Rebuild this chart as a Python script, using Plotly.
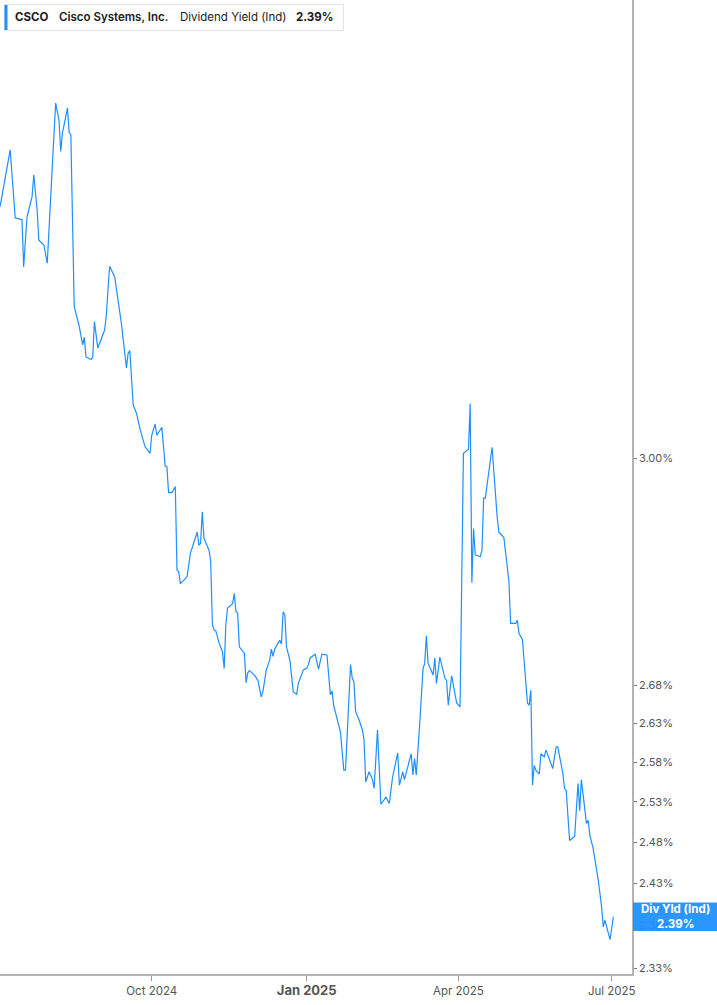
import plotly.graph_objects as go

# ---- data -------------------------------------------------------------
dates = [
    "2024-07-03", "2024-07-09", "2024-07-12", "2024-07-16", "2024-07-17", "2024-07-19",
    "2024-07-22", "2024-07-23", "2024-07-25", "2024-07-26", "2024-07-29", "2024-07-31",
    "2024-08-03", "2024-08-05", "2024-08-07", "2024-08-08", "2024-08-09", "2024-08-12",
    "2024-08-13", "2024-08-14", "2024-08-16", "2024-08-19", "2024-08-21", "2024-08-22",
    "2024-08-23", "2024-08-26", "2024-08-27", "2024-08-28", "2024-08-30", "2024-09-03",
    "2024-09-04", "2024-09-06", "2024-09-09", "2024-09-12", "2024-09-13", "2024-09-16",
    "2024-09-17", "2024-09-18", "2024-09-20", "2024-09-22", "2024-09-24", "2024-09-27",
    "2024-09-30", "2024-10-01", "2024-10-03", "2024-10-04", "2024-10-07", "2024-10-09",
    "2024-10-10", "2024-10-11", "2024-10-13", "2024-10-15", "2024-10-16", "2024-10-17",
    "2024-10-18", "2024-10-21", "2024-10-22", "2024-10-24", "2024-10-26", "2024-10-28",
    "2024-10-29", "2024-10-30", "2024-10-31", "2024-11-01", "2024-11-04", "2024-11-05",
    "2024-11-06", "2024-11-07", "2024-11-08", "2024-11-10", "2024-11-12", "2024-11-13",
    "2024-11-14", "2024-11-15", "2024-11-18", "2024-11-19", "2024-11-20", "2024-11-21",
    "2024-11-22", "2024-11-25", "2024-11-26", "2024-11-27", "2024-11-28", "2024-12-01",
    "2024-12-03", "2024-12-05", "2024-12-06", "2024-12-08", "2024-12-10", "2024-12-11",
    "2024-12-12", "2024-12-13", "2024-12-15", "2024-12-16", "2024-12-17", "2024-12-18",
    "2024-12-19", "2024-12-20", "2024-12-22", "2024-12-24", "2024-12-26", "2024-12-27",
    "2024-12-30", "2025-01-01", "2025-01-02", "2025-01-03", "2025-01-06", "2025-01-08",
    "2025-01-10", "2025-01-13", "2025-01-15", "2025-01-16", "2025-01-17", "2025-01-19",
    "2025-01-21", "2025-01-23", "2025-01-24", "2025-01-27", "2025-01-28", "2025-01-29",
    "2025-01-30", "2025-02-01", "2025-02-03", "2025-02-04", "2025-02-05", "2025-02-07",
    "2025-02-09", "2025-02-10", "2025-02-12", "2025-02-14", "2025-02-17", "2025-02-19",
    "2025-02-21", "2025-02-24", "2025-02-25", "2025-02-27", "2025-02-28", "2025-03-04",
    "2025-03-05", "2025-03-06", "2025-03-07", "2025-03-09", "2025-03-11", "2025-03-12",
    "2025-03-13", "2025-03-14", "2025-03-17", "2025-03-18", "2025-03-19", "2025-03-21",
    "2025-03-24", "2025-03-25", "2025-03-26", "2025-03-28", "2025-03-31", "2025-04-02",
    "2025-04-04", "2025-04-07", "2025-04-08", "2025-04-09", "2025-04-10", "2025-04-11",
    "2025-04-14", "2025-04-15", "2025-04-16", "2025-04-17", "2025-04-21", "2025-04-24",
    "2025-04-25", "2025-04-28", "2025-05-01", "2025-05-02", "2025-05-05", "2025-05-06",
    "2025-05-07", "2025-05-09", "2025-05-12", "2025-05-13", "2025-05-14", "2025-05-15",
    "2025-05-16", "2025-05-17", "2025-05-19", "2025-05-20", "2025-05-22", "2025-05-23",
    "2025-05-27", "2025-05-29", "2025-05-30", "2025-06-02", "2025-06-03", "2025-06-04",
    "2025-06-06", "2025-06-09", "2025-06-11", "2025-06-12", "2025-06-13", "2025-06-16",
    "2025-06-17", "2025-06-18", "2025-06-20", "2025-06-23", "2025-06-25", "2025-06-26",
    "2025-06-27", "2025-06-30", "2025-07-02",
]

div_yield = [
    3.398, 3.495, 3.379, 3.376, 3.298, 3.381,
    3.415, 3.452, 3.392, 3.342, 3.334, 3.304,
    3.466, 3.577, 3.546, 3.492, 3.524, 3.568,
    3.525, 3.521, 3.234, 3.202, 3.173, 3.185,
    3.154, 3.150, 3.154, 3.210, 3.168, 3.196,
    3.218, 3.299, 3.282, 3.223, 3.207, 3.137,
    3.160, 3.164, 3.080, 3.067, 3.044, 3.017,
    3.007, 3.034, 3.051, 3.034, 3.046, 2.988,
    2.987, 2.949, 2.949, 2.958, 2.838, 2.836,
    2.819, 2.826, 2.829, 2.862, 2.876, 2.892,
    2.873, 2.876, 2.921, 2.883, 2.866, 2.851,
    2.762, 2.755, 2.754, 2.737, 2.725, 2.703,
    2.762, 2.785, 2.791, 2.805, 2.780, 2.778,
    2.732, 2.723, 2.684, 2.697, 2.700, 2.694,
    2.687, 2.665, 2.672, 2.701, 2.714, 2.729,
    2.719, 2.729, 2.737, 2.741, 2.736, 2.780,
    2.776, 2.732, 2.714, 2.672, 2.668, 2.683,
    2.701, 2.703, 2.708, 2.717, 2.722, 2.702,
    2.722, 2.721, 2.668, 2.673, 2.654, 2.637,
    2.619, 2.570, 2.570, 2.708, 2.690, 2.685,
    2.646, 2.635, 2.622, 2.609, 2.555, 2.568,
    2.558, 2.547, 2.622, 2.527, 2.536, 2.528,
    2.562, 2.592, 2.551, 2.568, 2.558, 2.591,
    2.564, 2.585, 2.564, 2.628, 2.702, 2.710,
    2.747, 2.710, 2.694, 2.717, 2.683, 2.718,
    2.690, 2.687, 2.654, 2.693, 2.657, 2.652,
    3.007, 3.013, 3.082, 2.820, 2.897, 2.859,
    2.857, 2.866, 2.941, 2.941, 3.016, 2.914,
    2.892, 2.884, 2.822, 2.764, 2.764, 2.768,
    2.750, 2.742, 2.657, 2.654, 2.674, 2.551,
    2.576, 2.570, 2.565, 2.591, 2.587, 2.596,
    2.572, 2.600, 2.600, 2.566, 2.547, 2.544,
    2.482, 2.487, 2.553, 2.519, 2.558, 2.503,
    2.507, 2.489, 2.472, 2.434, 2.402, 2.378,
    2.386, 2.363, 2.390,
]

y_tick_vals = [3.00, 2.68, 2.63, 2.58, 2.53, 2.48, 2.43, 2.38, 2.33]
y_tick_text = ["3.00%", "2.68%", "2.63%", "2.58%", "2.53%", "2.48%", "2.43%", "2.38%", "2.33%"]

x_tick_vals = ["2024-10-01", "2025-01-01", "2025-04-01", "2025-07-01"]
x_tick_text = ["Oct 2024",
               "<span style='font-size:13px'><b>Jan 2025</b></span>",
               "Apr 2025", "Jul 2025"]

ticker = "CSCO"
company = "Cisco Systems, Inc."
metric = "Dividend Yield (Ind)"
last_label = "2.39%"

# ---- figure -----------------------------------------------------------
W, H = 717, 1005
ML, MR, MT, MB = 0, 85, 0, 31
PW = W - ML - MR
PH = H - MT - MB
BLUE = "#1f8fff"
FONT = "Inter, Roboto, sans-serif"

def px_x(px):
    return (px - ML) / PW

def px_y(py):
    return 1 - (py - MT) / PH

fig = go.Figure()
fig.add_trace(go.Scatter(
    x=dates, y=div_yield, mode="lines",
    line=dict(color=BLUE, width=1.2),
    hoverinfo="x+y", showlegend=False,
))

fig.update_layout(
    width=W, height=H,
    margin=dict(l=ML, r=MR, t=MT, b=MB, pad=0),
    paper_bgcolor="white", plot_bgcolor="white",
    font=dict(family=FONT, size=11, color="#555555"),
    showlegend=False,
    xaxis=dict(
        type="date",
        range=["2024-07-02 23:00", "2025-07-13 01:00"],
        tickvals=x_tick_vals, ticktext=x_tick_text,
        ticks="outside", ticklen=5, tickcolor="#999999", tickwidth=1,
        showline=True, linecolor="#b3b3b3", linewidth=1.5,
        showgrid=False, zeroline=False,
        tickfont=dict(family=FONT, size=11.5, color="#555555"),
        fixedrange=True,
    ),
    yaxis=dict(
        type="log",
        side="right",
        range=[0.36607, 0.57569],
        tickvals=y_tick_vals, ticktext=y_tick_text,
        ticks="outside", ticklen=3, tickcolor="#777777", tickwidth=1,
        showline=True, linecolor="#b3b3b3", linewidth=1.5,
        showgrid=False, zeroline=False,
        tickfont=dict(family=FONT, size=11, color="#555555"),
        fixedrange=True,
    ),
)

shapes = []
annotations = []

# Header box (legend)
shapes.append(dict(
    type="rect", xref="paper", yref="paper",
    x0=px_x(4.5), x1=px_x(343.5), y0=px_y(30.5), y1=px_y(4.5),
    line=dict(color="#e3e3e3", width=1), fillcolor="white", layer="above",
))
shapes.append(dict(
    type="rect", xref="paper", yref="paper",
    x0=px_x(4.5), x1=px_x(7.5), y0=px_y(30), y1=px_y(5),
    line=dict(width=0), fillcolor=BLUE, layer="above",
))
header_parts = [
    (13.3, ticker, 700),
    (57.3, company, 600),
    (177.7, metric, 400),
    (294.3, last_label, 700),
]
for xp, txt, wt in header_parts:
    annotations.append(dict(
        xref="paper", yref="paper", x=px_x(xp), y=px_y(17),
        xanchor="left", yanchor="middle", showarrow=False,
        text=txt, font=dict(family=FONT, size=11.5, color="#1a1a1a", weight=wt),
    ))

# Last-value tag on the right axis
shapes.append(dict(
    type="rect", xref="paper", yref="paper",
    x0=px_x(633), x1=px_x(717), y0=px_y(931), y1=px_y(902.5),
    line=dict(width=0), fillcolor=BLUE, opacity=0.94, layer="above",
))
annotations.append(dict(
    xref="paper", yref="paper", x=px_x(675), y=px_y(916.5),
    xanchor="center", yanchor="middle", showarrow=False,
    text=f"<b>Div Yld (Ind)</b><br><b>{last_label}</b>",
    font=dict(family=FONT, size=11.5, color="white"),
))

fig.update_layout(shapes=shapes, annotations=annotations)

fig.write_html(
    "out.html",
    config={"displayModeBar": False},
    post_script="document.body.style.margin='0px';document.body.style.overflow='hidden';",
)
